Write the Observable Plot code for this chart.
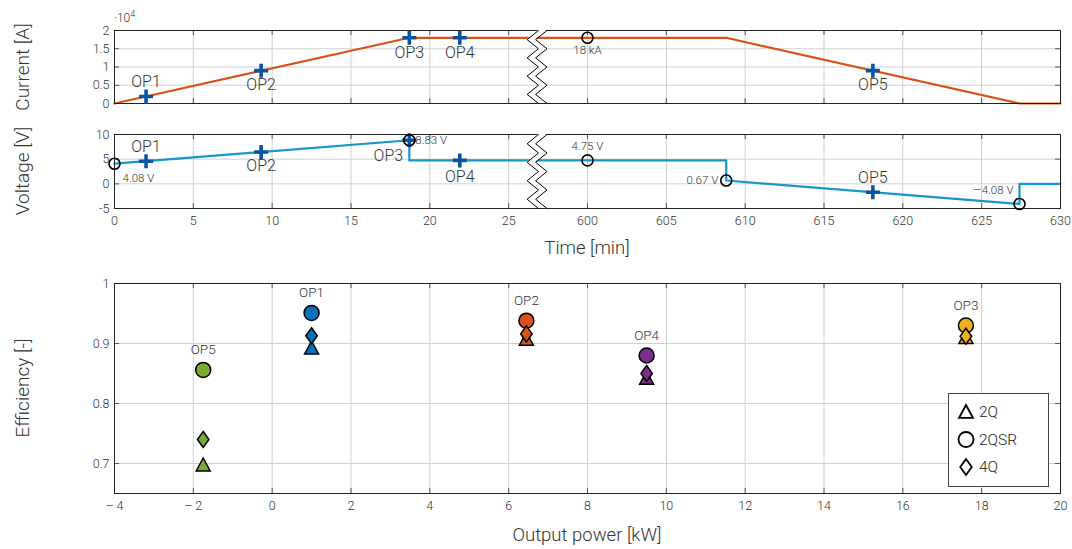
<!DOCTYPE html>
<html><head><meta charset="utf-8">
<script src="https://cdn.jsdelivr.net/npm/d3@7"></script>
<script src="https://cdn.jsdelivr.net/npm/@observablehq/plot@0.6"></script>
<style>
html,body{margin:0;padding:0;background:#fff;}
#chart{position:relative;width:1072px;height:549px;overflow:hidden;
  font-family:Roboto,sans-serif;font-weight:300;color:#333;}
#chart svg{position:absolute;left:0;overflow:visible;}
.title{position:absolute;font-size:18.5px;color:#333;white-space:nowrap;}
.ytitle{position:absolute;font-size:19px;color:#333;white-space:nowrap;transform:translate(-50%,-50%) rotate(-90deg);}
#legend{position:absolute;left:948px;top:393px;width:99px;height:92px;border:1px solid #444;background:#fff;}
#legend svg{position:absolute;left:0;top:0;}
</style></head><body><div id="chart"></div>
<script>
// ---------------- data ----------------
const opNames = ["OP1", "OP2", "OP3", "OP4", "OP5"];
const opTime = [2.0, 9.3, 18.7, 21.9, 618.1];          // min
const opCurrent = [1925, 9000, 18000, 18000, 9000];     // A
const opVoltage = [4.59, 6.44, 8.83, 4.75, -1.70];      // V

const currentTime = [0, 18.7, 608.8, 627.4, 630];
const currentA = [0, 18000, 18000, 0, 0];
const voltageTime = [0, 18.7, 18.7, 608.8, 608.8, 627.4, 627.4, 630];
const voltageV = [4.08, 8.83, 4.75, 4.75, 0.67, -4.08, 0, 0];

const currentNoteTime = [600];
const currentNoteA = [18000];
const currentNoteText = ["18 kA"];
const voltageNoteTime = [0, 18.7, 600, 608.8, 627.4];
const voltageNoteV = [4.08, 8.83, 4.75, 0.67, -4.08];
const voltageNoteText = ["4.08 V", "8.83 V", "4.75 V", "0.67 V", "\u20144.08 V"];

const timeTicks = [0, 5, 10, 15, 20, 25, 600, 605, 610, 615, 620, 625, 630];
const currentTicks = [0, 0.5, 1, 1.5, 2];   // x 10^4 A
const voltageTicks = [-5, 0, 5, 10];
const powerTicks = [-4, -2, 0, 2, 4, 6, 8, 10, 12, 14, 16, 18, 20];
const effTicks = [0.7, 0.8, 0.9, 1];

const power = [1.0, 6.45, 17.6, 9.5, -1.75];            // kW
const eff2Q = [0.8925, 0.907, 0.91, 0.842, 0.6975];
const eff2QSR = [0.951, 0.938, 0.93, 0.88, 0.856];
const eff4Q = [0.913, 0.916, 0.912, 0.85, 0.74];
const opColors = ["#0072BD", "#D95319", "#EDB120", "#7E2F8E", "#77AC30"];
const topologies = ["2Q", "2QSR", "4Q"];

// ---------------- layout / style ----------------
const W = 1072, ML = 114, MR = 12;
const FW = W - ML - MR;
const FONT = 'Roboto,sans-serif';
const GRID = "#d0d0d0", TICK = "#555";
const BREAK_AT = 26.8, GAP = 570;             // time axis break: 26.8 .. 596.8 min
const tx = t => t < 300 ? t : t - GAP;
const tFmt = v => String(v <= BREAK_AT ? v : Math.round(v + GAP));
const opTopStyle = [{dy:-15},{dy:14},{dy:15},{dy:15},{dy:14}];
const opMidStyle = [{dx:0,dy:-14},{dx:0,dy:14},{dx:-21,dy:16},{dx:0,dy:16},{dx:0,dy:-14}];
const vNoteStyle = [{dx:8,dy:15,a:"start"},{dx:6,dy:0,a:"start"},{dx:0,dy:-14,a:"middle"},{dx:-8,dy:0,a:"end"},{dx:-6,dy:-14,a:"end"}];

// custom MATLAB-like symbols
const symPlus = {draw(c, s){const r=Math.sqrt(s/Math.PI); c.moveTo(-r,0); c.lineTo(r,0); c.moveTo(0,-r); c.lineTo(0,r);}};
const symDiamond = {draw(c, s){const r=Math.sqrt(s/Math.PI), w=r*0.72; c.moveTo(0,-r); c.lineTo(w,0); c.lineTo(0,r); c.lineTo(-w,0); c.closePath();}};
const symTriangle = {draw(c, s){const r=Math.sqrt(s/Math.PI); c.moveTo(0,-r); c.lineTo(r,r*0.85); c.lineTo(-r,r*0.85); c.closePath();}};

const chart = document.getElementById("chart");

function frameTicks(xt, yt, fh) {
  return [
    Plot.ruleX(xt, {stroke: TICK, insetTop: fh - 5}),
    Plot.ruleX(xt, {stroke: TICK, insetBottom: fh - 5}),
    Plot.ruleY(yt, {stroke: TICK, insetRight: FW - 5}),
    Plot.ruleY(yt, {stroke: TICK, insetLeft: FW - 5})
  ];
}
function breakMarks(y0, y1) {
  const n = 8, amp = 0.36, half = 0.27;
  const bd = d3.range(n + 1).map(i => {
    const s = i % 2 === 0 ? 1 : -1;
    return {y: y1 - (y1 - y0) * i / n, xa: BREAK_AT - half + s * amp, xb: BREAK_AT + half + s * amp};
  });
  return [
    Plot.areaX(bd, {y: "y", x1: "xa", x2: "xb", fill: "white"}),
    Plot.line(bd, {x: "xa", y: "y", stroke: "black", strokeWidth: 1}),
    Plot.line(bd, {x: "xb", y: "y", stroke: "black", strokeWidth: 1})
  ];
}
const baseStyle = {fontFamily: FONT, fontSize: "12px", fontWeight: 300, color: "#333", background: "transparent", overflow: "visible"};
const txTicks = timeTicks.map(tx);
const noteFont = {fontSize: 11.5, fill: "#333", fontWeight: 300, letterSpacing: "0.6px"};

// ---------------- panel 1: current ----------------
const cur = currentTime.map((t, i) => ({x: tx(t), y: currentA[i] / 1e4}));
const opsTop = opNames.map((n, i) => ({name: n, x: tx(opTime[i]), y: opCurrent[i] / 1e4}));
const curNotes = currentNoteTime.map((t, i) => ({x: tx(t), y: currentNoteA[i] / 1e4, text: currentNoteText[i]}));
const H1 = 115, FH1 = 73;
const p1 = Plot.plot({
  width: W, height: H1, marginLeft: ML, marginRight: MR, marginTop: 30, marginBottom: 12,
  style: baseStyle,
  x: {domain: [0, 60], axis: null},
  y: {domain: [0, 2], axis: null},
  marks: [
    Plot.gridX(txTicks, {stroke: GRID, strokeOpacity: 1}),
    Plot.gridY(currentTicks, {stroke: GRID, strokeOpacity: 1}),
    ...frameTicks(txTicks, currentTicks, FH1),
    Plot.axisY(currentTicks, {tickSize: 0, tickPadding: 5, label: null, tickFormat: d => String(d), fontSize: 12.5}),
    Plot.line(cur, {x: "x", y: "y", stroke: "#D95319", strokeWidth: 2.2}),
    Plot.frame({stroke: "#222"}),
    ...breakMarks(0, 2),
    Plot.dot(curNotes, {x: "x", y: "y", r: 5.5, stroke: "black", strokeWidth: 1.6, fill: "none"}),
    Plot.text(curNotes, {x: "x", y: "y", text: "text", dy: 13, ...noteFont}),
    Plot.dot(opsTop, {x: "x", y: "y", symbol: symPlus, r: 7, stroke: "#0a54a3", strokeWidth: 3.6, fill: "none"}),
    ...opsTop.map((d, i) => Plot.text([d], {x: "x", y: "y", text: "name", dy: opTopStyle[i].dy, fontSize: 16, fill: "#333"}))
  ]
});
p1.style.top = "0px";
chart.appendChild(p1);

// ---------------- panel 2: voltage ----------------
const volt = voltageTime.map((t, i) => ({x: tx(t), y: voltageV[i]}));
const opsMid = opNames.map((n, i) => ({name: n, x: tx(opTime[i]), y: opVoltage[i]}));
const vNotes = voltageNoteTime.map((t, i) => ({x: tx(t), y: voltageNoteV[i], text: voltageNoteText[i]}));
const H2 = 150, FH2 = 74;
const p2 = Plot.plot({
  width: W, height: H2, marginLeft: ML, marginRight: MR, marginTop: 19, marginBottom: 57,
  style: baseStyle,
  x: {domain: [0, 60], axis: null},
  y: {domain: [-5, 10], axis: null},
  marks: [
    Plot.gridX(txTicks, {stroke: GRID, strokeOpacity: 1}),
    Plot.gridY(voltageTicks, {stroke: GRID, strokeOpacity: 1}),
    ...frameTicks(txTicks, voltageTicks, FH2),
    Plot.axisY(voltageTicks, {tickSize: 0, tickPadding: 5, label: null, tickFormat: d => String(d), fontSize: 12.5}),
    Plot.axisX(txTicks, {tickSize: 0, tickPadding: 8, label: null, tickFormat: tFmt, fontSize: 12.5}),
    Plot.line(volt, {x: "x", y: "y", stroke: "#1597c8", strokeWidth: 2.2}),
    Plot.frame({stroke: "#222"}),
    ...breakMarks(-5, 10),
    Plot.dot(opsMid, {x: "x", y: "y", symbol: symPlus, r: 7, stroke: "#0a54a3", strokeWidth: 3.6, fill: "none"}),
    Plot.dot(vNotes, {x: "x", y: "y", r: 5.5, stroke: "black", strokeWidth: 1.6, fill: "none"}),
    ...vNotes.map((d, i) => Plot.text([d], {x: "x", y: "y", text: "text", dx: vNoteStyle[i].dx, dy: vNoteStyle[i].dy, textAnchor: vNoteStyle[i].a, ...noteFont})),
    ...opsMid.map((d, i) => Plot.text([d], {x: "x", y: "y", text: "name", dx: opMidStyle[i].dx, dy: opMidStyle[i].dy, fontSize: 16, fill: "#333"}))
  ]
});
p2.style.top = "115px";
chart.appendChild(p2);

// ---------------- panel 3: efficiency ----------------
const ops = opNames.map((n, i) => ({name: n, p: power[i], e2q: eff2Q[i], e2qsr: eff2QSR[i], e4q: eff4Q[i], color: opColors[i]}));
const H3 = 284, FH3 = 210;
const p3 = Plot.plot({
  width: W, height: H3, marginLeft: ML, marginRight: MR, marginTop: 18, marginBottom: 56,
  style: baseStyle,
  x: {domain: [-4, 20], axis: null},
  y: {domain: [0.65, 1], axis: null},
  marks: [
    Plot.gridX(powerTicks, {stroke: GRID, strokeOpacity: 1}),
    Plot.gridY(effTicks, {stroke: GRID, strokeOpacity: 1}),
    ...frameTicks(powerTicks, effTicks, FH3),
    Plot.axisY(effTicks, {tickSize: 0, tickPadding: 5, label: null, tickFormat: d => String(d), fontSize: 12.5}),
    Plot.axisX(powerTicks, {tickSize: 0, tickPadding: 8, label: null, tickFormat: d => d < 0 ? "\u2013\u2009" + (-d) : String(d), fontSize: 12.5}),
    Plot.frame({stroke: "#222"}),
    Plot.dot(ops, {x: "p", y: "e2q", symbol: symTriangle, r: 7, fill: "color", stroke: "black", strokeWidth: 1.5}),
    Plot.dot(ops, {x: "p", y: "e2qsr", r: 7.5, fill: "color", stroke: "black", strokeWidth: 1.5}),
    Plot.dot(ops, {x: "p", y: "e4q", symbol: symDiamond, r: 8, fill: "color", stroke: "black", strokeWidth: 1.5}),
    Plot.text(ops, {x: "p", y: "e2qsr", text: "name", dy: -20, fontSize: 13.5, fill: "#333"})
  ]
});
p3.style.top = "265px";
chart.appendChild(p3);

// ---------------- titles ----------------
function addDiv(cls, html, left, top) {
  const d = document.createElement("div");
  d.className = cls; d.innerHTML = html;
  d.style.left = left + "px"; d.style.top = top + "px";
  chart.appendChild(d); return d;
}
addDiv("ytitle", "Current [A]", 22, 67);
addDiv("ytitle", "Voltage [V]", 22, 171);
addDiv("ytitle", "Efficiency [-]", 22, 388);
const t1 = addDiv("title", "Time [min]", 0, 237); t1.style.left = (ML + FW / 2) + "px"; t1.style.transform = "translateX(-50%)";
const t2 = addDiv("title", "Output power [kW]", 0, 524); t2.style.left = (ML + FW / 2) + "px"; t2.style.transform = "translateX(-50%)";
const ex = addDiv("title", "\u00b710<sup style=\"font-size:9px\">4</sup>", 114, 9); ex.style.fontSize = "12px";

// ---------------- legend ----------------
const leg = document.createElement("div"); leg.id = "legend";
const lsvg = d3.create("svg").attr("width", 99).attr("height", 92);
const legSyms = [symTriangle, d3.symbolCircle, symDiamond];
const legR = [7, 7.5, 8];
topologies.forEach((name, i) => {
  const y = 18 + i * 27.5;
  lsvg.append("path").attr("transform", `translate(17,${y})`)
    .attr("d", d3.symbol(legSyms[i], Math.PI * legR[i] * legR[i])())
    .attr("fill", "white").attr("stroke", "black").attr("stroke-width", 1.8);
  lsvg.append("text").attr("x", 30).attr("y", y).attr("dy", "0.35em")
    .attr("font-family", FONT).attr("font-size", 15.5).attr("font-weight", 300).attr("fill", "#222").text(name);
});
leg.appendChild(lsvg.node());
chart.appendChild(leg);
</script></body></html>
